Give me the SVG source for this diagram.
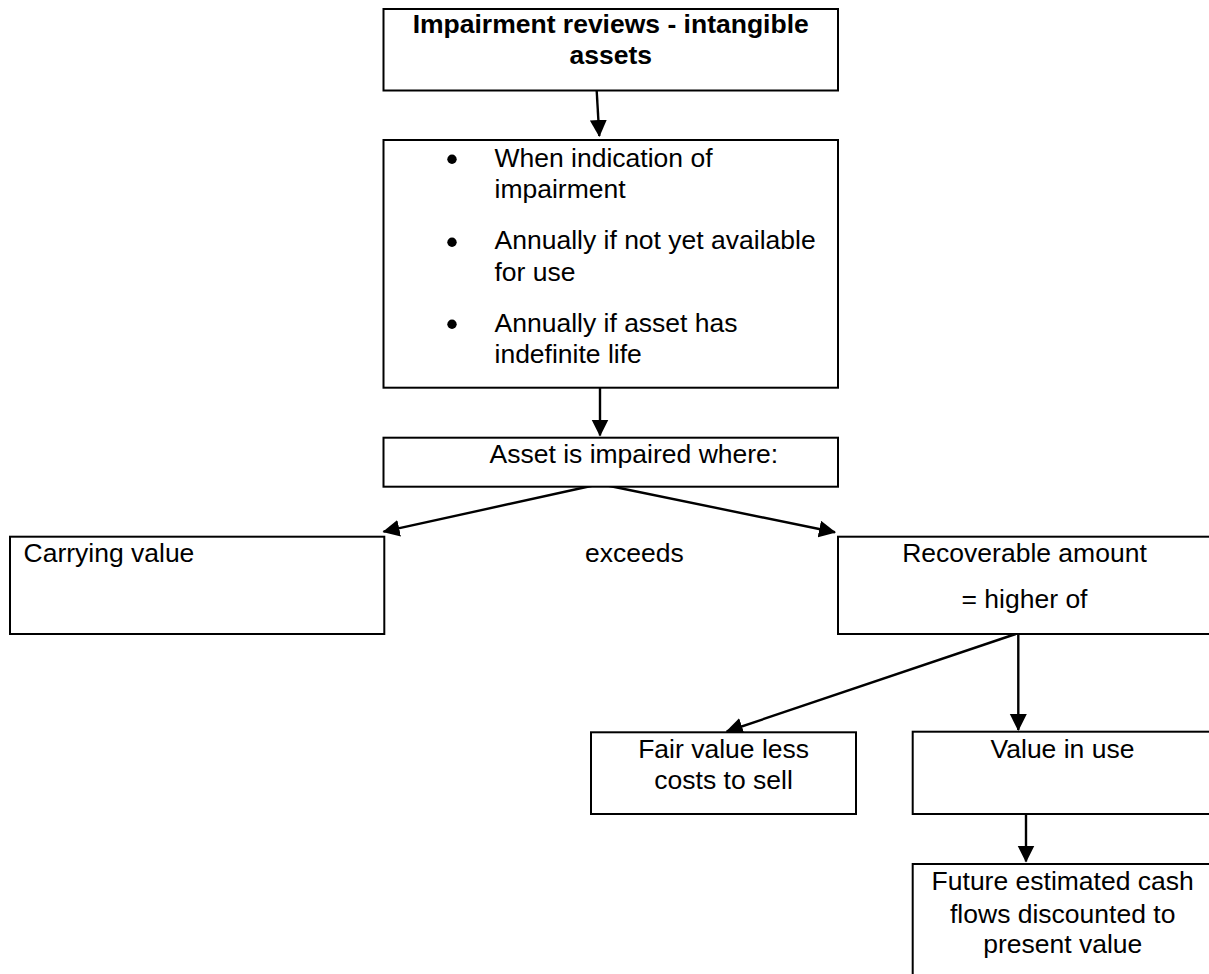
<svg xmlns="http://www.w3.org/2000/svg" width="1209" height="974" viewBox="0 0 1209 974">
<style>
.box{fill:#ffffff;stroke:#000000;stroke-width:2}
.t{font-family:"Liberation Sans",Arial,Helvetica,sans-serif;font-size:26.5px;fill:#000000}
.c{text-anchor:middle}
.b{font-weight:bold}
.dot{fill:#000000}
.conn line{stroke:#000000;stroke-width:2.4;marker-end:url(#arrow)}
</style>
<defs>
<marker id="arrow" markerUnits="userSpaceOnUse" markerWidth="18" markerHeight="18" refX="16" refY="8.5" orient="auto">
<path d="M0,0 L17,8.5 L0,17 z" fill="#000000"/>
</marker>
</defs>
<rect width="1209" height="974" fill="#ffffff"/>
<g id="connectors" class="conn">
<line x1="596.7" y1="91" x2="599.3" y2="136"/>
<line x1="600" y1="388" x2="600" y2="435.5"/>
<line x1="600" y1="484" x2="383.5" y2="531.7"/>
<line x1="600" y1="484" x2="835" y2="532.3"/>
<line x1="1015.7" y1="634" x2="726.7" y2="731.5"/>
<line x1="1018.3" y1="634" x2="1018.3" y2="730"/>
<line x1="1026" y1="814" x2="1026" y2="861.5"/>
</g>
<g id="title">
<rect class="box" x="383.5" y="9" width="454.5" height="81.5"/>
<text class="t c b" x="610.7" y="33.3">Impairment reviews - intangible</text>
<text class="t c b" x="610.7" y="64.3">assets</text>
</g>
<g id="when">
<rect class="box" x="383.5" y="140" width="454.5" height="247.7"/>
<circle class="dot" cx="452" cy="159.3" r="4.7"/>
<text class="t" x="494.5" y="166.7">When indication of</text>
<text class="t" x="494.5" y="197.7">impairment</text>
<circle class="dot" cx="452" cy="242.3" r="4.7"/>
<text class="t" x="494.5" y="249.3">Annually if not yet available</text>
<text class="t" x="494.5" y="281">for use</text>
<circle class="dot" cx="452" cy="324.3" r="4.7"/>
<text class="t" x="494.5" y="331.7">Annually if asset has</text>
<text class="t" x="494.5" y="363.3">indefinite life</text>
</g>
<g id="impaired">
<rect class="box" x="383.5" y="437.7" width="454.5" height="49"/>
<text class="t" x="489.5" y="462.7">Asset is impaired where:</text>
</g>
<g id="carrying">
<rect class="box" x="10" y="536.7" width="374.3" height="97.3"/>
<text class="t" x="23.5" y="561.7">Carrying value</text>
</g>
<g id="exceeds">
<text class="t" x="585" y="561.7">exceeds</text>
</g>
<g id="recoverable">
<rect class="box" x="838" y="536.7" width="374" height="97.3"/>
<text class="t c" x="1024.5" y="561.7">Recoverable amount</text>
<text class="t c" x="1024.5" y="608.3">= higher of</text>
</g>
<g id="fairvalue">
<rect class="box" x="591" y="732.3" width="265" height="81.7"/>
<text class="t c" x="723.6" y="757.7">Fair value less</text>
<text class="t c" x="723.6" y="789.3">costs to sell</text>
</g>
<g id="valueinuse">
<rect class="box" x="912.7" y="731.7" width="300" height="82.3"/>
<text class="t c" x="1062.5" y="758">Value in use</text>
</g>
<g id="future">
<rect class="box" x="912.7" y="864" width="300" height="130"/>
<text class="t c" x="1062.7" y="890">Future estimated cash</text>
<text class="t c" x="1062.7" y="922.7">flows discounted to</text>
<text class="t c" x="1062.7" y="953.3">present value</text>
</g>
</svg>
